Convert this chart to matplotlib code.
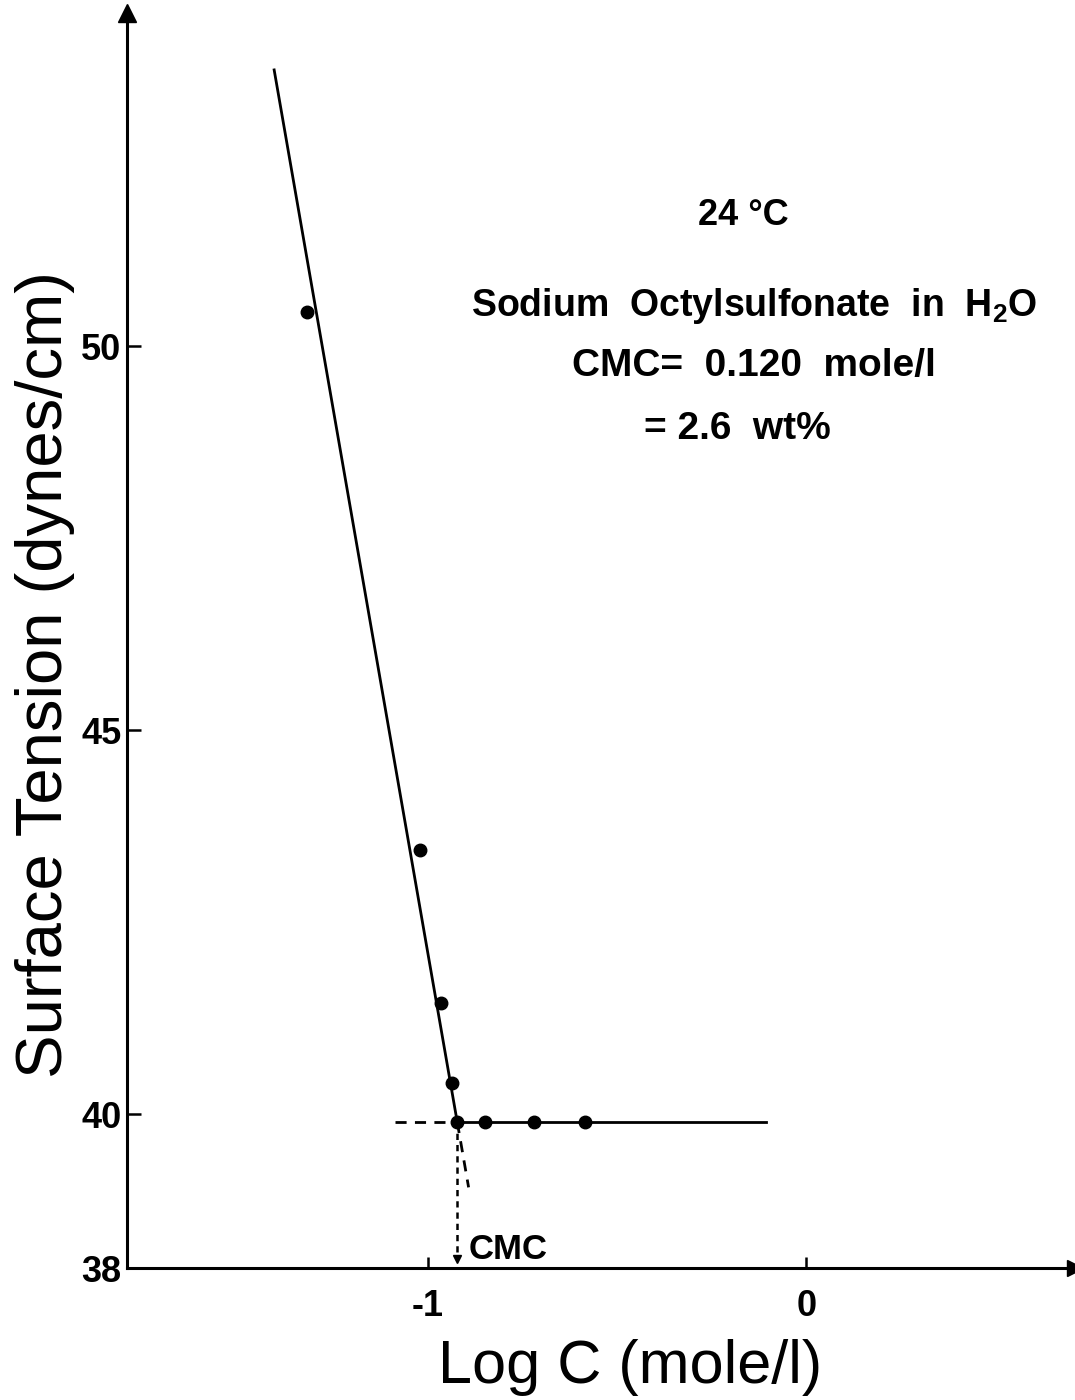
import matplotlib
matplotlib.use("Agg")
import matplotlib.pyplot as plt

plt.rcParams['font.family'] = ['Liberation Sans', 'DejaVu Sans']
plt.rcParams['mathtext.default'] = 'regular'

# Measured surface tension vs. log concentration
log_c = [-1.32, -1.021, -0.966, -0.937, -0.923, -0.849, -0.720, -0.585]
tension = [50.45, 43.44, 41.45, 40.41, 39.90, 39.90, 39.90, 39.90]

# Fitted straight lines (pre-micellar slope and plateau)
steep_x = [-1.407, -0.923]
steep_y = [53.6, 39.90]
steep_ext_x = [-0.923, -0.893]
steep_ext_y = [39.90, 39.05]
plateau_x = [-0.923, -0.106]
plateau_y = [39.90, 39.90]
plateau_ext_x = [-1.087, -0.923]
plateau_ext_y = [39.90, 39.90]

cmc_log = -0.923
cmc_tension = 39.90

x_ticks = [-1, 0]
x_ticklabels = ["-1", "0"]
y_ticks = [38, 40, 45, 50]
y_ticklabels = ["38", "40", "45", "50"]

fig = plt.figure(figsize=(10.75, 14), dpi=100)
ax = fig.add_axes([127 / 1075, 1 - 1268 / 1400, (1075 - 127) / 1075, (1268 - 13) / 1400])
ax.set_xlim(-1.796, 0.71)
ax.set_ylim(38, 38 + (1268 - 13) / 76.8)

for s in ("top", "right"):
    ax.spines[s].set_visible(False)
for s in ("left", "bottom"):
    ax.spines[s].set_linewidth(2.2)

# axis arrowheads
ax.plot(1, 38, ">", color="black", markersize=11, transform=ax.get_yaxis_transform(), clip_on=False)
ax.plot(-1.796, 1, "^", color="black", markersize=13, transform=ax.get_xaxis_transform(), clip_on=False)

ax.set_xticks(x_ticks)
ax.set_xticklabels(x_ticklabels)
ax.set_yticks(y_ticks)
ax.set_yticklabels(y_ticklabels)
ax.tick_params(axis="x", direction="in", length=8, width=1.8, pad=15, labelsize=26)
ax.tick_params(axis="y", direction="in", length=10, width=1.8, pad=4, labelsize=26)
for lab in ax.get_xticklabels() + ax.get_yticklabels():
    lab.set_fontweight("bold")

lw = 2.0
ax.plot(steep_x, steep_y, "-", color="black", lw=lw)
ax.plot(steep_ext_x, steep_ext_y, "--", color="black", lw=lw, dashes=(4, 3))
ax.plot(plateau_x, plateau_y, "-", color="black", lw=lw)
ax.plot(plateau_ext_x, plateau_ext_y, "--", color="black", lw=lw, dashes=(4, 3))

ax.plot(log_c, tension, "o", color="black", markersize=9, zorder=5)

# CMC marker down to the concentration axis
ax.plot([cmc_log, cmc_log], [cmc_tension, 38.12], color="black", lw=1.8, dashes=(2.5, 2))
ax.plot(cmc_log, 38.12, "v", color="black", markersize=6, clip_on=False)
ax.text(cmc_log + 0.03, 38.02, "CMC", fontsize=25, fontweight="bold", ha="left", va="bottom")

ax.text(-0.167, 51.70, "24 °C", fontsize=26, fontweight="bold", ha="center", va="center")
ax.text(-0.138, 50.53, "Sodium  Octylsulfonate  in  H$_2$O", fontsize=27, fontweight="bold",
        ha="center", va="center")
ax.text(-0.140, 49.74, "CMC=  0.120  mole/l", fontsize=28, fontweight="bold", ha="center", va="center")
ax.text(-0.183, 48.92, "= 2.6  wt%", fontsize=28, fontweight="bold", ha="center", va="center")

fig.text(630 / 1075, 1 - 1368 / 1400, "Log C (mole/l)", fontsize=44, ha="center", va="center")
fig.text(45 / 1075, 1 - 675 / 1400, "Surface Tension (dynes/cm)", fontsize=47, rotation=90,
         ha="center", va="center")

fig.savefig("out.png", dpi=100)
